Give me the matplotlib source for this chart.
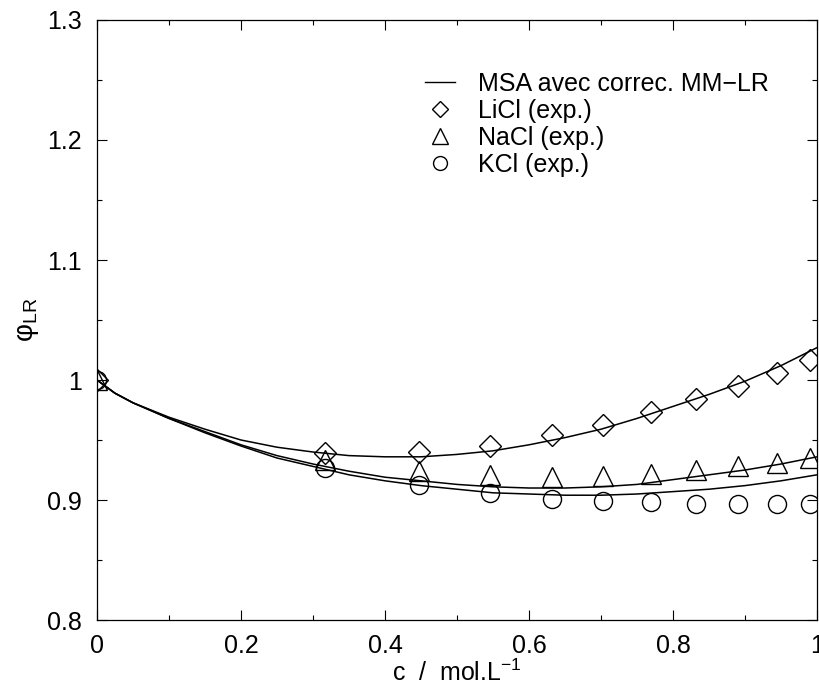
import matplotlib
matplotlib.use("Agg")
from matplotlib import pyplot as plt
from matplotlib.lines import Line2D

plt.rcParams['font.family'] = ['Liberation Sans', 'DejaVu Sans']
plt.rcParams['mathtext.fontset'] = 'custom'
plt.rcParams['mathtext.rm'] = 'Liberation Sans'

x_exp = [0.0, 0.317, 0.447, 0.546, 0.632, 0.703, 0.769, 0.832, 0.890, 0.944, 0.990]
licl_exp = [1.0, 0.939, 0.940, 0.945, 0.954, 0.9625, 0.973, 0.984, 0.995, 1.006, 1.017]
nacl_exp = [1.0, 0.933, 0.924, 0.921, 0.919, 0.920, 0.922, 0.925, 0.928, 0.931, 0.935]
kcl_exp = [1.0, 0.927, 0.9125, 0.906, 0.901, 0.899, 0.898, 0.897, 0.897, 0.897, 0.897]

# MSA curves, read every 0.05
x_msa = [0.0, 0.025, 0.05, 0.1, 0.15, 0.2, 0.25, 0.3, 0.35, 0.4, 0.45, 0.5,
         0.55, 0.6, 0.65, 0.7, 0.75, 0.8, 0.85, 0.9, 0.95, 1.0]
licl_msa = [1.0, 0.989, 0.981, 0.969, 0.959, 0.950, 0.944, 0.940, 0.937, 0.936, 0.936, 0.938,
            0.941, 0.946, 0.952, 0.959, 0.968, 0.978, 0.988, 0.999, 1.012, 1.027]
nacl_msa = [1.0, 0.989, 0.981, 0.968, 0.957, 0.946, 0.937, 0.930, 0.924, 0.919, 0.916, 0.913,
            0.911, 0.910, 0.910, 0.911, 0.913, 0.917, 0.921, 0.925, 0.930, 0.936]
kcl_msa = [1.0, 0.989, 0.981, 0.968, 0.956, 0.945, 0.935, 0.928, 0.921, 0.916, 0.912, 0.909,
           0.906, 0.905, 0.904, 0.904, 0.905, 0.907, 0.909, 0.912, 0.916, 0.921]

fig = plt.figure(figsize=(8.19, 6.87), dpi=100)
ax = fig.add_axes([0.1184, 0.0975, 0.8792, 0.8734])

for ys in (licl_msa, nacl_msa, kcl_msa):
    ax.plot(x_msa, ys, color='black', lw=1.1, zorder=3)

mk = dict(linestyle='none', markerfacecolor='none', markeredgecolor='black',
          markeredgewidth=1.0, zorder=4)
ax.plot(x_exp, licl_exp, marker='D', markersize=11, **mk)
ax.plot(x_exp, nacl_exp, marker='^', markersize=14, **mk)
ax.plot(x_exp, kcl_exp, marker='o', markersize=13, **mk)

ax.set_xlim(0, 1)
ax.set_ylim(0.8, 1.3)
ax.set_xticks([0, 0.2, 0.4, 0.6, 0.8, 1.0])
ax.set_xticklabels(['0', '0.2', '0.4', '0.6', '0.8', '1'])
ax.set_xticks([0.1, 0.3, 0.5, 0.7, 0.9], minor=True)
ax.set_yticks([0.8, 0.9, 1.0, 1.1, 1.2, 1.3])
ax.set_yticklabels(['0.8', '0.9', '1', '1.1', '1.2', '1.3'])
ax.set_yticks([0.85, 0.95, 1.05, 1.15, 1.25], minor=True)
ax.tick_params(which='both', direction='in', top=True, right=True, labelsize=18, width=0.8)
ax.tick_params(which='major', length=7)
ax.tick_params(axis='y', which='major', pad=11)
ax.tick_params(axis='x', which='major', pad=10)
ax.tick_params(which='minor', length=3.5)
for s in ax.spines.values():
    s.set_linewidth(0.9)

ax.set_xlabel(r'c  /  mol.L$^{\mathregular{-1}}$', fontsize=18, labelpad=1)
ax.set_ylabel(r'φ$_{\mathregular{LR}}$', fontsize=20, labelpad=4)

handles = [
    Line2D([], [], color='black', lw=1.0),
    Line2D([], [], marker='D', markersize=8, **mk),
    Line2D([], [], marker='^', markersize=11, **mk),
    Line2D([], [], marker='o', markersize=10, **mk),
]
labels = ['MSA avec correc. MM\u2212LR', 'LiCl (exp.)', 'NaCl (exp.)', 'KCl (exp.)']
ax.legend(handles, labels, loc='upper left', bbox_to_anchor=(0.455, 0.913), frameon=False,
          fontsize=18, handlelength=1.2, handletextpad=0.95, labelspacing=0.12,
          borderpad=0, borderaxespad=0)

fig.savefig('out.png', dpi=100)
